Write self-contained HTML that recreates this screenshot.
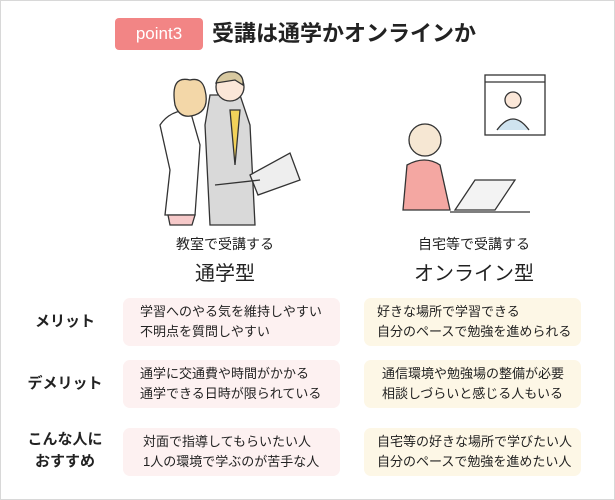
<!DOCTYPE html>
<html><head><meta charset="utf-8"><style>
*{margin:0;padding:0;box-sizing:border-box}
body{width:615px;height:500px;background:#fff;position:relative;overflow:hidden;font-family:"Liberation Sans","Noto Sans CJK JP",sans-serif;color:#222}
.frame{position:absolute;left:0;top:0;width:615px;height:500px;border:1px solid #d8d8d8}
.a{position:absolute}
.pill{left:115px;top:18px;width:88px;height:32px;background:#f28585;border-radius:4px;color:#fff;font-size:17px;text-align:center;line-height:32px}
.title{left:212px;top:17px;font-size:22px;font-weight:bold;line-height:34px;white-space:nowrap}
.sub{font-size:14px;text-align:center;width:200px;white-space:nowrap}
.big{font-size:20px;text-align:center;width:200px;white-space:nowrap}
.box{border-radius:7px;font-size:13px;line-height:20px;padding:0;display:flex;flex-direction:column;justify-content:center;white-space:nowrap}
.p{background:#fdf1f1;left:123px;width:217px;padding-left:17px}
.y{background:#fdf7e6;left:364px;width:217px;padding-left:13px}
.lab{font-size:15px;font-weight:bold;text-align:center;width:110px;left:10px;line-height:22px}
</style></head><body>
<div class="frame"></div>
<div class="a pill">point3</div>
<div class="a title">受講は通学かオンラインか</div>

<svg class="a" style="left:140px;top:65px" width="170" height="165" viewBox="0 0 170 165">
<g stroke="#333" stroke-width="1.3" fill="none">
<path d="M25 150 L30 105 L20 60 Q30 45 50 45 L60 80 L55 150 Z" fill="#fff"/>
<path d="M28 150 L55 150 L52 160 L30 160Z" fill="#f6c9c9"/>
<path d="M50 15 Q30 10 35 40 Q40 55 55 50 Q70 45 65 25 Q62 12 50 15Z" fill="#f3d7a8"/>
<path d="M65 60 L70 30 L100 30 L110 60 L115 160 L70 160 Z" fill="#d9d9d9"/>
<path d="M90 45 L95 100 L100 45Z" fill="#f2d25a"/>
<circle cx="90" cy="22" r="14" fill="#fbe7d8"/>
<path d="M76 18 Q80 5 95 7 Q104 10 103 20 L95 15 Z" fill="#d8c9a0"/>
<path d="M110 110 L150 88 L160 115 L118 130 Z" fill="#eee"/>
<path d="M75 120 L120 115" />
</g></svg>

<svg class="a" style="left:395px;top:70px" width="160" height="160" viewBox="0 0 160 160">
<g stroke="#333" stroke-width="1.3" fill="none">
<rect x="90" y="5" width="60" height="60" fill="#fff"/>
<line x1="90" y1="12" x2="150" y2="12"/>
<circle cx="118" cy="30" r="8" fill="#fbe7d8"/>
<path d="M102 60 Q118 38 134 60" fill="#cfe3ef"/>
<circle cx="30" cy="70" r="16" fill="#f6e7d3"/>
<path d="M8 140 L12 95 Q30 85 45 95 L55 140Z" fill="#f4a7a2"/>
<path d="M60 140 L100 140 L120 110 L80 110 Z" fill="#f3f3f3"/>
<line x1="55" y1="142" x2="135" y2="142"/>
</g></svg>

<div class="a sub" style="left:125px;top:234px">教室で受講する</div>
<div class="a big" style="left:125px;top:257px">通学型</div>
<div class="a sub" style="left:374px;top:234px">自宅等で受講する</div>
<div class="a big" style="left:374px;top:257px">オンライン型</div>

<div class="a lab" style="top:311px">メリット</div>
<div class="a lab" style="top:373px">デメリット</div>
<div class="a lab" style="top:429px">こんな人に<br>おすすめ</div>

<div class="a box p" style="top:298px;height:48px"><div>学習へのやる気を維持しやすい</div><div>不明点を質問しやすい</div></div>
<div class="a box y" style="top:298px;height:48px"><div>好きな場所で学習できる</div><div>自分のペースで勉強を進められる</div></div>
<div class="a box p" style="top:360px;height:48px"><div>通学に交通費や時間がかかる</div><div>通学できる日時が限られている</div></div>
<div class="a box y" style="top:360px;height:48px;padding-left:18px"><div>通信環境や勉強場の整備が必要</div><div>相談しづらいと感じる人もいる</div></div>
<div class="a box p" style="top:428px;height:48px;padding-left:20px"><div>対面で指導してもらいたい人</div><div>1人の環境で学ぶのが苦手な人</div></div>
<div class="a box y" style="top:428px;height:48px"><div>自宅等の好きな場所で学びたい人</div><div>自分のペースで勉強を進めたい人</div></div>
</body></html>
